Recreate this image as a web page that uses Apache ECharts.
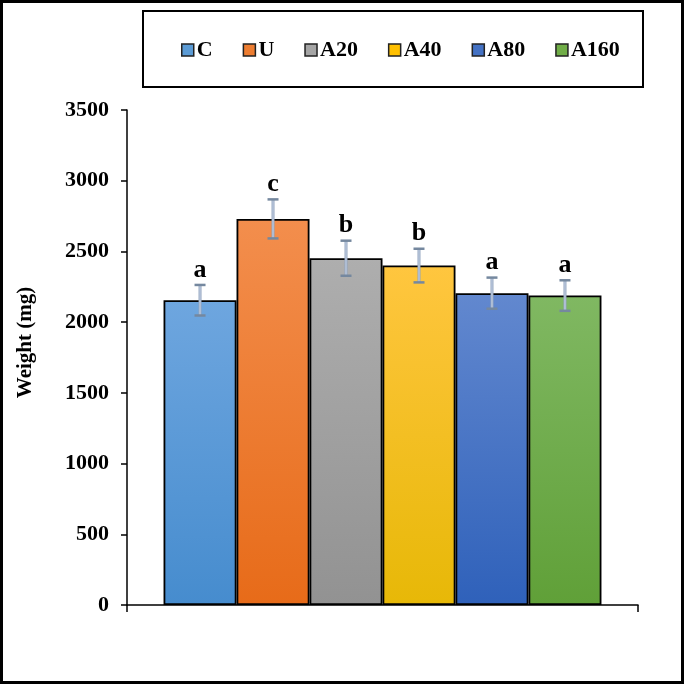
<!DOCTYPE html>
<html>
<head>
<meta charset="utf-8">
<script src="https://cdn.jsdelivr.net/npm/echarts@6/dist/echarts.min.js"></script>
<style>
  html, body { margin: 0; padding: 0; background: #fff; }
  #chart { width: 685px; height: 685px; }
</style>
</head>
<body>
<div id="chart"></div>
<script>
// ---- data ----
const groups = ['C', 'U', 'A20', 'A40', 'A80', 'A160'];
const means = [2155, 2730, 2452, 2400, 2205, 2188];
const errors = [108, 138, 124, 119, 110, 108];
const letters = ['a', 'c', 'b', 'b', 'a', 'a'];
const yAxisName = 'Weight (mg)';
const yMin = 0, yMax = 3500, yStep = 500;

// ---- styles ----
const topColors = ['#6ea6df', '#f38e4d', '#aeaeae', '#ffc63f', '#6288cf', '#80b862'];
const bottomColors = ['#468cce', '#e76b19', '#929292', '#e7b807', '#2f61ba', '#60a038'];
const legendColors = ['#5b9bd5', '#ed7d31', '#a5a5a5', '#ffc000', '#4472c4', '#70ad47'];
const FONT = '"Liberation Serif", "Times New Roman", serif';
const CAT_GAP = 0.143;

const chart = echarts.init(document.getElementById('chart'), null, { renderer: 'canvas' });

const barSeries = groups.map((g, i) => ({
  name: g,
  type: 'bar',
  data: [means[i]],
  barGap: '0%',
  barCategoryGap: (CAT_GAP * 100) + '%',
  itemStyle: {
    color: new echarts.graphic.LinearGradient(0, 0, 0, 1, [
      { offset: 0, color: topColors[i] },
      { offset: 1, color: bottomColors[i] }
    ]),
    borderColor: '#000',
    borderWidth: 1.8
  },
  emphasis: { disabled: true },
  z: 2
}));

const errData = groups.map((g, i) => [0, means[i] - errors[i], means[i] + errors[i], i]);

const errSeries = {
  type: 'custom',
  name: 'err',
  data: errData,
  encode: { x: 0, y: [1, 2] },
  z: 5,
  silent: true,
  renderItem: function (params, api) {
    const i = api.value(3);
    const c0 = api.coord([0, 0]);
    const band = api.size([1, 0])[0];
    const groupW = band * (1 - CAT_GAP);
    const bw = groupW / groups.length;
    const cx = c0[0] - groupW / 2 + (i + 0.5) * bw;
    const yLo = api.coord([0, api.value(1)])[1];
    const yHi = api.coord([0, api.value(2)])[1];
    const capHalf = 5.5;
    return {
      type: 'group',
      children: [
        { type: 'line', shape: { x1: cx, y1: yHi, x2: cx, y2: yLo },
          style: { stroke: '#93a5bf', lineWidth: 3 } },
        { type: 'line', shape: { x1: cx, y1: yHi, x2: cx, y2: yLo },
          style: { stroke: '#c9d5e8', lineWidth: 1 } },
        { type: 'line', shape: { x1: cx - capHalf, y1: yHi, x2: cx + capHalf, y2: yHi },
          style: { stroke: '#75889f', lineWidth: 2.5 } },
        { type: 'line', shape: { x1: cx - capHalf, y1: yLo, x2: cx + capHalf, y2: yLo },
          style: { stroke: '#75889f', lineWidth: 2.5 } },
        { type: 'text', x: cx, y: yHi - 2,
          style: { text: letters[i], fill: '#000', font: 'bold 26px ' + FONT,
                   align: 'center', verticalAlign: 'bottom' } }
      ]
    };
  }
};

const option = {
  backgroundColor: '#fff',
  animation: false,
  grid: { left: 127, right: 47, top: 110, bottom: 80, containLabel: false },
  legend: {
    data: groups.map((g, i) => ({
      name: g,
      itemStyle: { color: legendColors[i], borderColor: '#222', borderWidth: 1.5 }
    })),
    left: 176,
    top: 34,
    icon: 'rect',
    itemWidth: 12,
    itemHeight: 12,
    itemGap: 30,
    textStyle: { fontFamily: FONT, fontWeight: 'bold', fontSize: 22, color: '#000', padding: [0, 0, 0, -2] },
    selectedMode: false
  },
  xAxis: {
    type: 'category',
    data: [''],
    boundaryGap: true,
    axisLine: { lineStyle: { color: '#000', width: 1.5 } },
    axisTick: { show: true, length: 7, inside: false, lineStyle: { color: '#000', width: 1.5 } },
    axisLabel: { show: false },
    splitLine: { show: false }
  },
  yAxis: {
    type: 'value',
    min: yMin,
    max: yMax,
    interval: yStep,
    name: yAxisName,
    nameLocation: 'middle',
    nameGap: 91,
    nameRotate: 90,
    nameTextStyle: { fontFamily: FONT, fontWeight: 'bold', fontSize: 21, color: '#000', padding: [0, 0, 0, 30] },
    axisLine: { show: true, lineStyle: { color: '#000', width: 1.5 } },
    axisTick: { show: true, length: 6, inside: false, lineStyle: { color: '#000', width: 1.5 } },
    axisLabel: { fontFamily: FONT, fontWeight: 'bold', fontSize: 22, color: '#000', margin: 18,
                 formatter: function (v) { return String(v); } },
    splitLine: { show: false }
  },
  graphic: [
    { type: 'rect', shape: { x: 1.5, y: 1.5, width: 681, height: 681 },
      style: { fill: 'none', stroke: '#000', lineWidth: 3 }, silent: true, z: 100 },
    { type: 'rect', shape: { x: 143, y: 11, width: 500, height: 76 },
      style: { fill: 'none', stroke: '#000', lineWidth: 2 }, silent: true, z: 100 }
  ],
  series: barSeries.concat([errSeries])
};

chart.setOption(option);
</script>
</body>
</html>
